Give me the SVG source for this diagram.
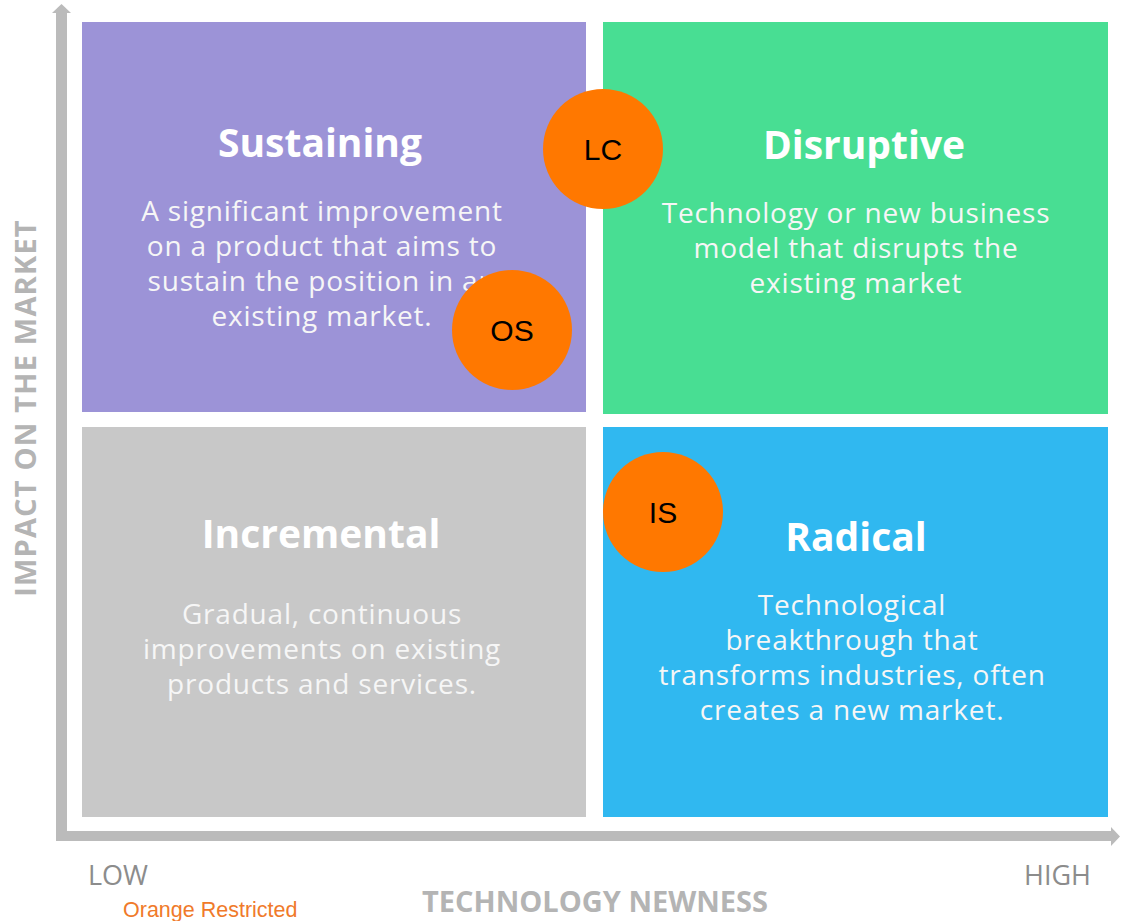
<svg xmlns="http://www.w3.org/2000/svg" width="1128" height="921" viewBox="0 0 1128 921">
<style>
.title{font-family:"Open Sans","Liberation Sans",sans-serif;font-weight:bold;font-size:39px;fill:#ffffff;text-anchor:middle}
.body{font-family:"Open Sans","Liberation Sans",sans-serif;font-size:28px;letter-spacing:0.8px;fill:#f6f6f6;text-anchor:middle}
.axis{font-family:"Open Sans","Liberation Sans",sans-serif;font-weight:bold;font-size:29px;fill:#b4b4b4;text-anchor:middle}
.tick{font-family:"Open Sans","Liberation Sans",sans-serif;font-size:27px;fill:#8c8c8c}
.badge{fill:#FF7800}
.blabel{font-family:"Liberation Sans",Arial,sans-serif;font-size:30px;fill:#000000;text-anchor:middle}
</style>
<rect width="1128" height="921" fill="#ffffff"/>
<g id="quadrants">
<g id="sustaining">
<rect x="82" y="22" width="504" height="390" fill="#9C93D7"/>
<text class="title" x="320" y="157">Sustaining</text>
<text class="body" x="322" y="221">A significant improvement</text>
<text class="body" x="322" y="256">on a product that aims to</text>
<text class="body" x="322" y="291">sustain the position in an</text>
<text class="body" x="322" y="326">existing market.</text>
</g>
<g id="disruptive">
<rect x="603" y="22" width="505" height="392" fill="#48DE93"/>
<text class="title" x="864" y="159">Disruptive</text>
<text class="body" x="856" y="223">Technology or new business</text>
<text class="body" x="856" y="258">model that disrupts the</text>
<text class="body" x="856" y="293">existing market</text>
</g>
<g id="incremental">
<rect x="82" y="427" width="504" height="390" fill="#C8C8C8"/>
<text class="title" x="321" y="548">Incremental</text>
<text class="body" x="322" y="624">Gradual, continuous</text>
<text class="body" x="322" y="659">improvements on existing</text>
<text class="body" x="322" y="694">products and services.</text>
</g>
<g id="radical">
<rect x="603" y="427" width="505" height="390" fill="#30B8F0"/>
<text class="title" x="856" y="551">Radical</text>
<text class="body" x="852" y="615">Technological</text>
<text class="body" x="852" y="650">breakthrough that</text>
<text class="body" x="852" y="685">transforms industries, often</text>
<text class="body" x="852" y="720">creates a new market.</text>
</g>
</g>
<g id="axes" fill="#BBBBBB">
<rect x="56" y="12" width="11" height="829"/>
<polygon points="52,13 71,13 61.5,4"/>
<rect x="56" y="831" width="1056" height="10"/>
<polygon points="1111,827 1111,846 1120,836.5"/>
</g>
<g id="labels">
<text class="axis" transform="translate(36,408) rotate(-90)" letter-spacing="1.2">IMPACT ON THE MARKET</text>
<text class="axis" x="595" y="912">TECHNOLOGY NEWNESS</text>
<text class="tick" x="88" y="885">LOW</text>
<text class="tick" x="1024" y="885">HIGH</text>
<text x="123" y="917" font-family="Liberation Sans,Arial,sans-serif" font-size="21.5" fill="#F07A2A">Orange Restricted</text>
</g>
<g id="badge-lc"><circle class="badge" cx="603" cy="149" r="60"/><text class="blabel" x="603" y="160">LC</text></g>
<g id="badge-os"><circle class="badge" cx="512" cy="330" r="60"/><text class="blabel" x="512" y="341">OS</text></g>
<g id="badge-is"><circle class="badge" cx="663" cy="512" r="60"/><text class="blabel" x="663" y="523">IS</text></g>
</svg>
